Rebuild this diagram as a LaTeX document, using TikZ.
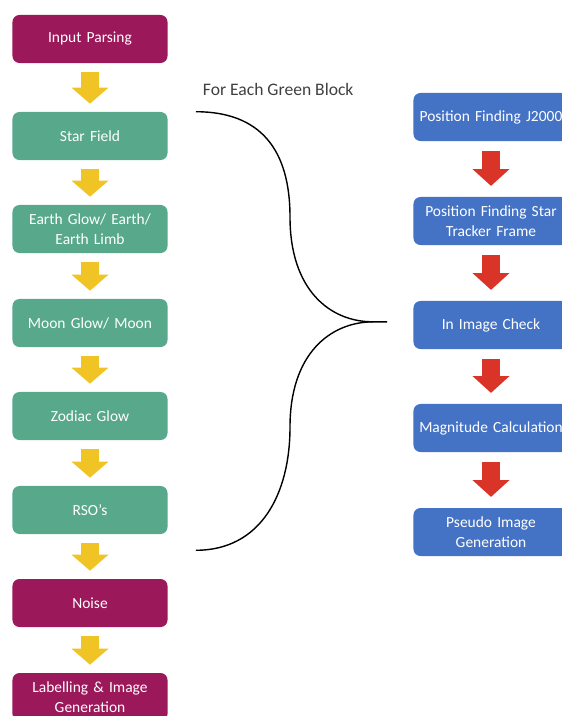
\documentclass[tikz,border=0pt]{standalone}
\usepackage{fontspec}
\setmainfont{Carlito}
\usepackage{xcolor}
\usepackage{tikz}
\usetikzlibrary{arrows.meta, positioning, calc}
\definecolor{mymag}{RGB}{155,24,90}
\definecolor{mygreen}{RGB}{88,168,140}
\definecolor{myblue}{RGB}{68,114,196}
\definecolor{myyellow}{RGB}{240,196,36}
\definecolor{myred}{RGB}{218,52,40}
\definecolor{mytext}{RGB}{64,64,64}
\tikzset{
  block/.style={rectangle, text=white, text width=3.7cm, align=center,
    minimum width=3.875cm, minimum height=1.2cm, inner sep=1pt,
    font=\fontsize{11}{14.5}\selectfont, rounded corners=5pt},
  magblock/.style={block, fill=mymag},
  greenblock/.style={block, fill=mygreen},
  blueblock/.style={block, fill=myblue},
  yarrow/.style={line width=0.45cm, color=myyellow,
    -{Triangle[width=0.9cm, length=0.4cm]}},
  rarrow/.style={line width=0.45cm, color=myred,
    -{Triangle[width=0.9cm, length=0.42cm]}},
  brace/.style={line width=1pt, color=black}
}
\begin{document}
\begin{tikzpicture}[x=0.025cm, y=-0.025cm]
  \useasboundingbox (0,0) rectangle (561,716);

  % Left column
  \node[magblock]   (ip)  at (90,39)  {Input Parsing};
  \node[greenblock] (sf)  at (90,136) {Star Field};
  \node[greenblock] (eg)  at (90,229) {Earth Glow/ Earth/\\ Earth Limb};
  \node[greenblock] (mg)  at (90,323) {Moon Glow/ Moon};
  \node[greenblock] (zg)  at (90,416) {Zodiac Glow};
  \node[greenblock] (rso) at (90,510) {RSO’s};
  \node[magblock]   (ns)  at (90,603) {Noise};
  \node[magblock]   (lig) at (90,697) {Labelling \& Image\\ Generation};

  % Right column
  \node[blueblock] (pj)  at (491,117) {Position Finding J2000};
  \node[blueblock] (ps)  at (491,221) {Position Finding Star\\ Tracker Frame};
  \node[blueblock] (ic)  at (491,325) {In Image Check};
  \node[blueblock] (mc)  at (491,428) {Magnitude Calculation};
  \node[blueblock] (pig) at (491,532) {Pseudo Image\\ Generation};

  % Block arrows
  \foreach \a/\b in {ip/sf, sf/eg, eg/mg, mg/zg, zg/rso, rso/ns, ns/lig}
    \draw[yarrow] ([yshift=-0.22cm]\a.south) -- ([yshift=0.2cm]\b.north);
  \foreach \a/\b in {pj/ps, ps/ic, ic/mc, mc/pig}
    \draw[rarrow] ([yshift=-0.25cm]\a.south) -- ([yshift=0.27cm]\b.north);

  % Brace
  \node[font=\fontsize{12.5}{14}\selectfont, text=mytext, anchor=west]
    (lbl) at (198,89) {For Each Green Block};
  \coordinate (bt) at ([xshift=0.7cm]sf.north east);
  \coordinate (bb) at ([xshift=0.7cm, yshift=-0.4cm]rso.south east);
  \coordinate (tip) at ([xshift=-0.65cm, yshift=0.08cm]ic.west);
  \draw[brace] (bt) .. controls ($(bt)+(65,0)$) and (290,150) .. (290,217)
    .. controls (290,290) and (330,322) .. ($(tip)+(-14,0)$) -- (tip);
  \draw[brace] ($(tip)+(-14,0)$) .. controls (330,322) and (290,354) .. (290,427)
    .. controls (290,494) and ($(bb)+(65,0)$) .. (bb);
\end{tikzpicture}
\end{document}
